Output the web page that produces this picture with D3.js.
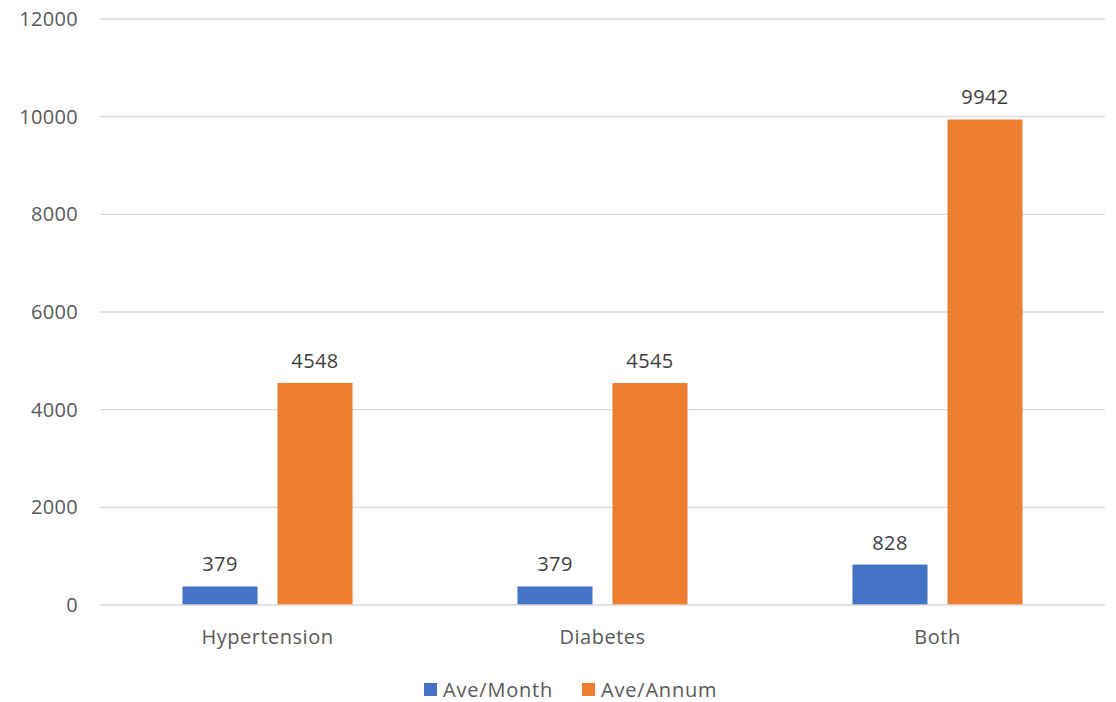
<!DOCTYPE html>
<html>
<head>
<meta charset="utf-8">
<script src="https://cdn.jsdelivr.net/npm/d3@7"></script>
<style>
  html, body { margin: 0; padding: 0; background: #fff; }
  svg { display: block; font-family: "Open Sans", "Noto Sans", sans-serif; }
</style>
</head>
<body>
<svg id="chart" width="1116" height="702"></svg>
<script>
// Average patient counts per condition
const categories = ["Hypertension", "Diabetes", "Both"];
const seriesNames = ["Ave/Month", "Ave/Annum"];
const aveMonth = [379, 379, 828];
const aveAnnum = [4548, 4545, 9942];
const yTicks = [0, 2000, 4000, 6000, 8000, 10000, 12000];
const colors = ["#4472C4", "#ED7D31"];

const svg = d3.select("#chart");
const plotLeft = 100, plotRight = 1105, plotTop = 19, plotBottom = 605;

const x = d3.scaleBand().domain(categories).range([plotLeft, plotRight]).paddingInner(0).paddingOuter(0);
const xSub = d3.scaleBand().domain(seriesNames).range([0, x.bandwidth()]).paddingInner(0.2105).paddingOuter(0.868);
const y = d3.scaleLinear().domain([0, 12000]).range([plotBottom, plotTop]);

// gridlines
svg.append("g")
  .selectAll("line")
  .data(yTicks.filter(t => t > 0))
  .join("line")
  .attr("x1", plotLeft).attr("x2", plotRight)
  .attr("y1", d => y(d)).attr("y2", d => y(d))
  .attr("stroke", "#d9d9d9").attr("stroke-width", 1.3);

// y axis labels
const yAxis = d3.axisLeft(y).tickValues(yTicks).tickSize(0).tickPadding(0).tickFormat(d3.format("d"));
const gy = svg.append("g").attr("transform", "translate(78,0)").call(yAxis);
gy.select(".domain").remove();
gy.selectAll("text").attr("fill", "#595959").attr("font-size", 20)
  .attr("font-family", "Open Sans").attr("letter-spacing", "0.3px");

// category labels
const xAxis = d3.axisBottom(x).tickSize(0).tickPadding(0);
const gx = svg.append("g").attr("transform", "translate(0,630)").call(xAxis);
gx.select(".domain").remove();
gx.selectAll("text").attr("fill", "#595959").attr("font-size", 20)
  .attr("font-family", "Open Sans").attr("letter-spacing", "0.5px");

const rows = categories.map((c, i) => ({
  cat: c,
  vals: [{ s: seriesNames[0], v: aveMonth[i] }, { s: seriesNames[1], v: aveAnnum[i] }]
}));

const groups = svg.append("g").selectAll("g")
  .data(rows).join("g")
  .attr("transform", d => `translate(${x(d.cat)},0)`);

groups.selectAll("rect")
  .data(d => d.vals).join("rect")
  .attr("x", d => xSub(d.s))
  .attr("width", xSub.bandwidth())
  .attr("y", d => y(d.v))
  .attr("height", d => y(0) - y(d.v))
  .attr("fill", (d, i) => colors[i]);

groups.selectAll("text.val")
  .data(d => d.vals).join("text")
  .attr("class", "val")
  .attr("x", d => xSub(d.s) + xSub.bandwidth() / 2)
  .attr("y", d => y(d.v) - 15)
  .attr("text-anchor", "middle")
  .attr("fill", "#404040")
  .attr("font-size", 20)
  .attr("letter-spacing", "0.4px")
  .text(d => d.v);

// baseline
svg.append("line")
  .attr("x1", plotLeft).attr("x2", plotRight)
  .attr("y1", y(0)).attr("y2", y(0))
  .attr("stroke", "#d9d9d9").attr("stroke-width", 1.3);

// legend
const legendItems = [{ name: seriesNames[0], x: 424 }, { name: seriesNames[1], x: 582 }];
const lg = svg.append("g").selectAll("g").data(legendItems).join("g")
  .attr("transform", d => `translate(${d.x},683)`);
lg.append("rect").attr("width", 13).attr("height", 13).attr("fill", (d, i) => colors[i]);
lg.append("text").attr("x", 19).attr("y", 14).attr("fill", "#595959").attr("font-size", 20)
  .attr("letter-spacing", "0.8px").text(d => d.name);
</script>
</body>
</html>
